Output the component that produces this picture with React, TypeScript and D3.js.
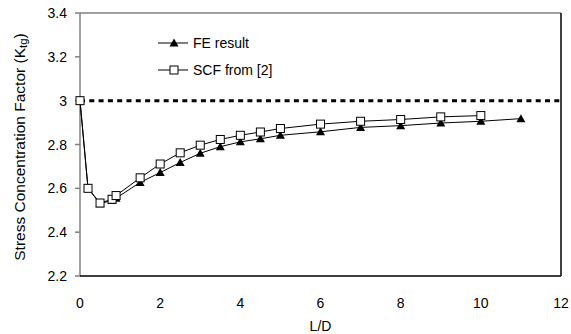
import React from "react";
import * as d3 from "d3";

const feX = [0, 0.2, 0.5, 0.8, 0.9, 1.5, 2, 2.5, 3, 3.5, 4, 4.5, 5, 6, 7, 8, 9, 10, 11];
const feY = [3.0, 2.6, 2.53, 2.545, 2.555, 2.627, 2.672, 2.718, 2.76, 2.79, 2.812, 2.826, 2.842, 2.858, 2.878, 2.886, 2.898, 2.906, 2.918];
const scfX = [0, 0.2, 0.5, 0.8, 0.9, 1.5, 2, 2.5, 3, 3.5, 4, 4.5, 5, 6, 7, 8, 9, 10];
const scfY = [3.0, 2.6, 2.533, 2.55, 2.567, 2.648, 2.711, 2.762, 2.797, 2.823, 2.842, 2.857, 2.873, 2.893, 2.906, 2.914, 2.926, 2.932];
const xTicks = [0, 2, 4, 6, 8, 10, 12];
const yTicks = [2.2, 2.4, 2.6, 2.8, 3.0, 3.2, 3.4];
const refValue = 3.0;

export default function App() {
  const left = 80, right = 561, top = 13, bottom = 276;
  const x = d3.scaleLinear().domain([0, 12]).range([left, right]);
  const y = d3.scaleLinear().domain([2.2, 3.4]).range([bottom, top]);
  const fe = feX.map((v, i) => [v, feY[i]] as [number, number]);
  const scf = scfX.map((v, i) => [v, scfY[i]] as [number, number]);
  const line = d3.line<[number, number]>().x(d => x(d[0])).y(d => y(d[1]));
  const tri = (cx: number, cy: number) => `M${cx},${cy - 4.5}L${cx + 4.5},${cy + 3.5}L${cx - 4.5},${cy + 3.5}Z`;
  const font = "Arial, 'Liberation Sans', sans-serif";
  return (
    <svg width={571} height={334} style={{ position: "absolute", left: 0, top: 0 }} fontFamily={font}>
      <rect x={0} y={0} width={571} height={334} fill="#fff" />
      {/* plot frame */}
      <line x1={left} x2={right} y1={top} y2={top} stroke="#808080" strokeWidth={1.5} />
      <line x1={left} x2={left} y1={top} y2={bottom} stroke="#808080" strokeWidth={1.5} />
      <line x1={right} x2={right} y1={top} y2={bottom} stroke="#000" strokeWidth={1.5} />
      <line x1={left} x2={right} y1={bottom} y2={bottom} stroke="#000" strokeWidth={1.5} />
      {yTicks.map(t => (
        <g key={t}>
          <line x1={left - 5} x2={left} y1={y(t)} y2={y(t)} stroke="#808080" strokeWidth={1.5} />
          <text x={67} y={y(t) + 5} textAnchor="end" fontSize={14} fill="#000">{d3.format("")(+t.toFixed(1))}</text>
        </g>
      ))}
      {xTicks.map(t => (
        <text key={t} x={x(t)} y={308} textAnchor="middle" fontSize={14} fill="#000">{t}</text>
      ))}
      <text x={x(6)} y={331} textAnchor="middle" fontSize={14} fill="#000">L/D</text>
      <text transform={`translate(25,147) rotate(-90)`} textAnchor="middle" fontSize={15.5} fill="#000">
        Stress Concentration Factor (K<tspan fontSize={11.5} dy={2}>tg</tspan><tspan dy={-2}>)</tspan>
      </text>
      {/* reference dashed line */}
      <line x1={left} x2={right} y1={y(refValue)} y2={y(refValue)} stroke="#000" strokeWidth={3} strokeDasharray="5,4.3" />
      {/* series */}
      <path d={line(fe) || ""} fill="none" stroke="#000" strokeWidth={1} />
      <path d={line(scf) || ""} fill="none" stroke="#000" strokeWidth={1} />
      {fe.map((d, i) => (
        <path key={"t" + i} d={tri(x(d[0]), y(d[1]))} fill="#000" />
      ))}
      {scf.map((d, i) => (
        <rect key={"s" + i} x={x(d[0]) - 4} y={y(d[1]) - 4} width={8} height={8} fill="#fff" stroke="#000" strokeWidth={1} />
      ))}
      {/* legend */}
      <line x1={158} x2={188} y1={43} y2={43} stroke="#000" strokeWidth={1} />
      <path d={tri(174, 43)} fill="#000" />
      <text x={193} y={48} fontSize={14} fill="#000">FE result</text>
      <line x1={158} x2={188} y1={70} y2={70} stroke="#000" strokeWidth={1} />
      <rect x={170} y={66} width={8} height={8} fill="#fff" stroke="#000" strokeWidth={1} />
      <text x={193} y={75} fontSize={14} fill="#000">SCF from [2]</text>
    </svg>
  );
}
